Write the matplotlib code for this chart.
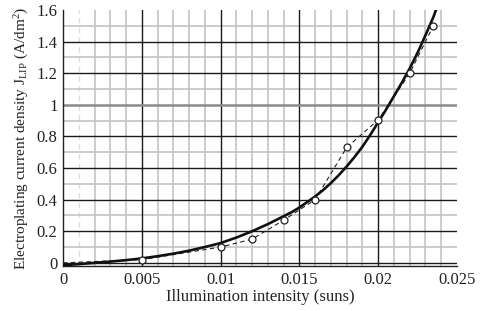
import matplotlib
matplotlib.use("Agg")
import matplotlib.pyplot as plt
from matplotlib.ticker import FuncFormatter

# measured points (open circles, dashed)
meas_x = [0.0, 0.005, 0.010, 0.012, 0.014, 0.016, 0.018, 0.020, 0.022, 0.0235]
meas_y = [0.0, 0.02, 0.10, 0.15, 0.27, 0.40, 0.73, 0.905, 1.20, 1.50]

# fitted curve (solid)
fit_x = [0.0, 0.001, 0.002, 0.003, 0.004, 0.005, 0.006, 0.007, 0.008, 0.009,
         0.010, 0.011, 0.012, 0.013, 0.014, 0.0145, 0.015, 0.0155, 0.016,
         0.0165, 0.017, 0.0175, 0.018, 0.0185, 0.019, 0.0195, 0.020, 0.0205,
         0.021, 0.0215, 0.022, 0.0225, 0.023, 0.0235, 0.0237]
fit_y = [-0.015, -0.008, 0.0, 0.008, 0.017, 0.028, 0.042, 0.058, 0.077, 0.10,
         0.125, 0.16, 0.20, 0.245, 0.295, 0.32, 0.35, 0.385, 0.42,
         0.46, 0.505, 0.555, 0.61, 0.67, 0.735, 0.81, 0.89, 0.97,
         1.055, 1.14, 1.23, 1.33, 1.44, 1.555, 1.61]

x_major = [0.0, 0.005, 0.010, 0.015, 0.020, 0.025]
y_major = [0.0, 0.2, 0.4, 0.6, 0.8, 1.0, 1.2, 1.4, 1.6]

plt.rcParams['font.family'] = ['Liberation Serif', 'DejaVu Serif']
plt.rcParams['mathtext.fontset'] = 'custom'
plt.rcParams['mathtext.rm'] = 'Liberation Serif'
plt.rcParams['mathtext.it'] = 'Liberation Serif:italic'

fig = plt.figure(figsize=(4.86, 3.11), dpi=100)
ax = fig.add_axes([63/486, 1-266/311, (457-63)/486, (266-10)/311])

ax.set_xlim(0, 0.025)
ax.set_ylim(-0.02, 1.6)

# minor grid
for i in range(1, 25):
    xv = i * 0.001
    if i % 5 == 0:
        continue
    if i == 1:
        ax.axvline(xv, color='#dcdcdc', lw=1.0, ls=(0, (4, 3)), zorder=1)
    else:
        ax.axvline(xv, color='#c4c4c4', lw=1.2, zorder=1)
for j in range(1, 16):
    yv = j * 0.1
    if j % 2 == 0:
        continue
    ax.axhline(yv, color='#c4c4c4', lw=1.2, zorder=1)
# major grid
for xv in x_major[1:-1]:
    ax.axvline(xv, color='#1a1a1a', lw=1.0, zorder=2)
for yv in y_major[:-1]:
    if abs(yv - 1.0) < 1e-9:
        ax.axhline(yv, color='#8a8a8a', lw=1.8, zorder=2)
    else:
        ax.axhline(yv, color='#1a1a1a', lw=1.0, zorder=2)

ax.plot(fit_x, fit_y, color='#111111', lw=1.9, zorder=4)
ax.plot(meas_x, meas_y, color='#222222', lw=0.8, ls=(0, (4, 3)), zorder=3)
ax.plot(meas_x[1:], meas_y[1:], ls='none', marker='o', ms=5,
        mfc='white', mec='#222222', mew=0.9, zorder=5)

ax.set_xticks(x_major)
ax.set_yticks(y_major)
ax.xaxis.set_major_formatter(FuncFormatter(lambda v, p: '%g' % round(v, 4)))
ax.yaxis.set_major_formatter(FuncFormatter(lambda v, p: '%g' % round(v, 2)))
ax.tick_params(length=0, labelsize=12, pad=4, colors='#222222')

for s in ['top', 'right']:
    ax.spines[s].set_visible(False)
ax.spines['left'].set_color('#222222')
ax.spines['bottom'].set_color('#222222')
ax.spines['left'].set_linewidth(1.0)
ax.spines['bottom'].set_linewidth(1.0)

ax.set_xlabel('Illumination intensity (suns)', fontsize=12, color='#222222', labelpad=1)
ax.set_ylabel(r'Electroplating current density J$_{\mathrm{LIP}}$ (A/dm$^{2}$)',
              fontsize=11, color='#222222', labelpad=4)

fig.savefig('out.png', dpi=100)
